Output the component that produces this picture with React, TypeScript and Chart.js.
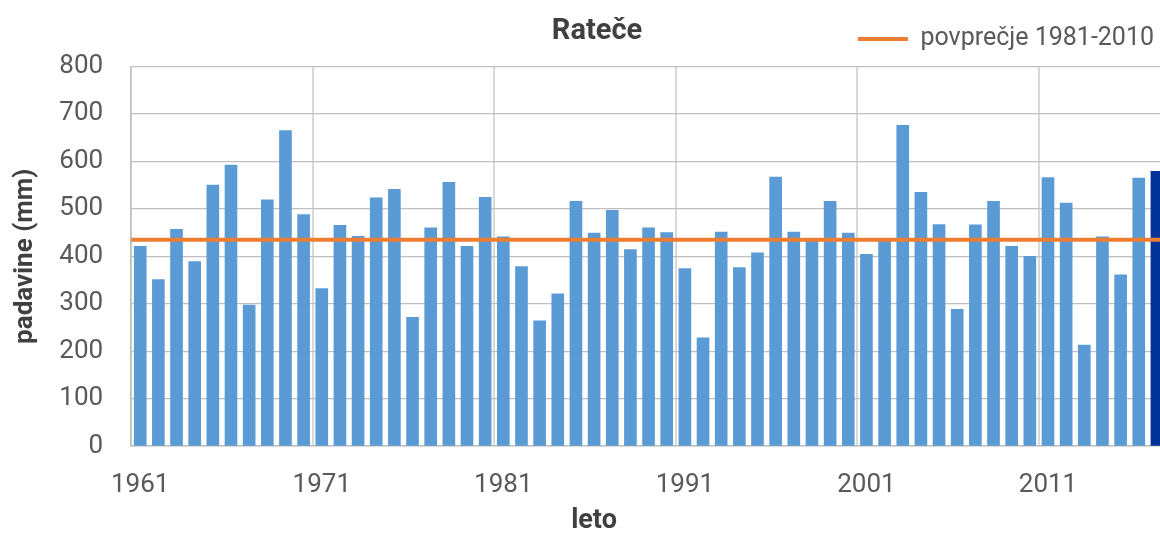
import React, { useEffect, useRef } from "react";
import { Chart, registerables } from "chart.js";

Chart.register(...registerables);

const YEARS = [
  "1961", "1962", "1963", "1964", "1965", "1966", "1967", "1968", "1969", "1970",
  "1971", "1972", "1973", "1974", "1975", "1976", "1977", "1978", "1979", "1980",
  "1981", "1982", "1983", "1984", "1985", "1986", "1987", "1988", "1989", "1990",
  "1991", "1992", "1993", "1994", "1995", "1996", "1997", "1998", "1999", "2000",
  "2001", "2002", "2003", "2004", "2005", "2006", "2007", "2008", "2009", "2010",
  "2011", "2012", "2013", "2014", "2015", "2016", "2017",
];

const PRECIP_MM = [
  421, 351, 457, 389, 550, 592, 297, 519, 665, 488,
  332, 465, 442, 523, 541, 271, 460, 556, 421, 524,
  441, 378, 264, 321, 516, 449, 497, 414, 460, 450,
  374, 228, 451, 376, 407, 567, 451, 436, 516, 449,
  404, 434, 676, 535, 467, 288, 466, 516, 421, 400,
  566, 512, 213, 441, 361, 565, 579,
];

const AVG_LABEL = "povprečje 1981-2010";
const AVG_VALUE = 435;

const TITLE = "Rateče";
const X_TITLE = "leto";
const Y_TITLE = "padavine (mm)";
const Y_MIN = 0;
const Y_MAX = 800;
const Y_STEP = 100;
const LABEL_EVERY = 10;

const BAR_BLUE = "#5B9BD5";
const BAR_LAST = "#003399";
const ORANGE = "#ED7D31";
const TICK_COLOR = "#595959";
const TITLE_COLOR = "#404040";
const FONT = "Roboto";

export default function App() {
  const ref = useRef<HTMLCanvasElement>(null);

  useEffect(() => {
    if (!ref.current) return;
    const textPlugin = {
      id: "extraTexts",
      afterDraw(chart: any) {
        const ctx = chart.ctx;
        ctx.save();
        ctx.fillStyle = TITLE_COLOR;
        ctx.textAlign = "center";
        ctx.textBaseline = "alphabetic";
        ctx.font = `bold 29px ${FONT}`;
        ctx.fillText(TITLE, 597, 39);
        ctx.font = `bold 27px ${FONT}`;
        ctx.fillText(X_TITLE, 594, 528);
        ctx.restore();
      },
    };

    const barColors = PRECIP_MM.map((_, i) =>
      i === PRECIP_MM.length - 1 ? BAR_LAST : BAR_BLUE
    );

    const noOverhang = (s: any) => {
      s.paddingLeft = 0;
      s.paddingRight = 0;
    };

    const chart = new Chart(ref.current, {
      type: "bar",
      data: {
        labels: YEARS,
        datasets: [
          {
            type: "line",
            label: AVG_LABEL,
            data: [
              { x: 0, y: AVG_VALUE },
              { x: 1, y: AVG_VALUE },
            ],
            xAxisID: "x2",
            borderColor: ORANGE,
            backgroundColor: ORANGE,
            borderWidth: 4,
            pointRadius: 0,
            order: 0,
          } as any,
          {
            type: "bar",
            label: "padavine",
            data: PRECIP_MM,
            backgroundColor: barColors,
            borderWidth: 0,
            barThickness: 12,
            grouped: false,
            xAxisID: "x",
            order: 1,
          },
        ],
      },
      options: {
        responsive: false,
        animation: false,
        layout: { padding: { left: 6, right: 0, top: 14.5, bottom: 7.8 } },
        plugins: {
          tooltip: { enabled: false },
          title: { display: false },
          legend: {
            display: true,
            position: "top",
            align: "end",
            labels: {
              font: { family: FONT, size: 25 },
              color: TICK_COLOR,
              boxWidth: 50,
              boxHeight: 4,
              padding: 12,
              generateLabels: () => [
                {
                  text: AVG_LABEL,
                  fillStyle: ORANGE,
                  strokeStyle: "rgba(0,0,0,0)",
                  lineWidth: 0,
                  hidden: false,
                  datasetIndex: 0,
                  fontColor: TICK_COLOR,
                },
              ],
            },
          },
        },
        scales: {
          x: {
            type: "category",
            offset: true,
            grid: {
              offset: true,
              drawTicks: false,
              color: (c: any) =>
                c.index % LABEL_EVERY === 0 && c.index < YEARS.length
                  ? "#D9D9D9"
                  : "rgba(0,0,0,0)",
              lineWidth: 2,
            },
            border: { color: "#BFBFBF", width: 1.5 },
            ticks: {
              autoSkip: false,
              maxRotation: 0,
              minRotation: 0,
              padding: 24,
              font: { family: FONT, size: 26 },
              color: TICK_COLOR,
              callback: (_v: any, i: number) =>
                i % LABEL_EVERY === 0 ? YEARS[i] : "",
            },
            afterFit: noOverhang,
          },
          x2: {
            type: "linear",
            position: "top",
            min: 0,
            max: 1,
            offset: false,
            display: true,
            grid: { display: false, drawTicks: false, offset: false },
            border: { display: false },
            ticks: { display: false, callback: () => "" },
            afterFit: (s: any) => {
              s.height = 5;
              s.paddingLeft = 0;
              s.paddingRight = 0;
            },
          },
          y: {
            min: Y_MIN,
            max: Y_MAX,
            ticks: {
              stepSize: Y_STEP,
              padding: 28,
              font: { family: FONT, size: 26 },
              color: TICK_COLOR,
            },
            grid: { color: "#BFBFBF", lineWidth: 1.2, drawTicks: false },
            border: { color: "#BFBFBF", width: 1.5 },
            title: {
              display: true,
              text: Y_TITLE,
              font: { family: FONT, size: 26, weight: "bold" },
              color: TITLE_COLOR,
              padding: { top: 4, bottom: -9.9 },
            },
          },
        },
      },
      plugins: [textPlugin],
    });

    return () => chart.destroy();
  }, []);

  return (
    <div
      style={{
        position: "fixed",
        left: 0,
        top: 0,
        width: 1160,
        height: 533,
        overflow: "hidden",
        background: "#ffffff",
      }}
    >
      <canvas ref={ref} width={1166} height={533} style={{ display: "block" }} />
    </div>
  );
}
